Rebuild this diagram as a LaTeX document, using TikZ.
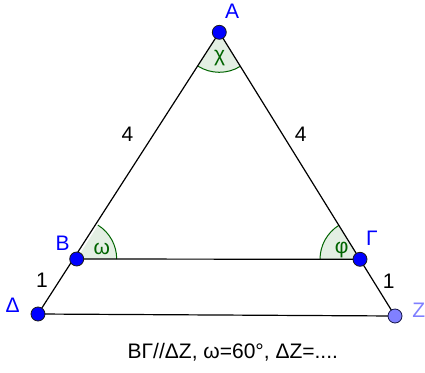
\documentclass[tikz,border=0pt]{standalone}
\usepackage{fontspec}
\setmainfont{Liberation Sans}
\usetikzlibrary{positioning, calc, angles}
\definecolor{PtBlue}{HTML}{0000FF}
\definecolor{PtLight}{HTML}{8080FF}
\definecolor{LblLight}{HTML}{7F7FFF}
\definecolor{PtEdge}{HTML}{1A1A1A}
\definecolor{AngGreen}{HTML}{006400}
\definecolor{AngFill}{HTML}{E3EFE3}
\tikzset{
    point/.style={circle, draw=PtEdge, line width=0.8pt, fill=PtBlue, inner sep=0pt, minimum size=14pt},
    side/.style={line width=1.2pt, color=black},
    lbl/.style={font=\fontsize{21}{24}\selectfont, inner sep=0pt},
    ptlabel/.style={lbl, text=PtBlue},
    anglabel/.style={lbl, text=AngGreen},
    angmark/.style={draw=AngGreen, fill=AngFill, line width=1pt, angle radius=40pt},
}

\begin{document}
\begin{tikzpicture}[x=1pt, y=-1pt]
        \useasboundingbox (0,0) rectangle (425,372);

        % Points
        \coordinate (A) at (219.3,32.3);
        \coordinate (B) at (76.7,259);
        \coordinate (G) at (360,259.3);
        \coordinate (D) at (38,314);
        \coordinate (Z) at (395,316);

        % Angles
        \pic[angmark] {angle = B--A--G};
        \pic[angmark] {angle = G--B--A};
        \pic[angmark] {angle = A--G--B};

        % Sides
        \draw[side] (A) -- (D);
        \draw[side] (A) -- (Z);
        \draw[side] (B) -- (G);
        \draw[side] (D) -- (Z);

        \node[point] (pA) at (A) {};
        \node[point] (pB) at (B) {};
        \node[point] (pG) at (G) {};
        \node[point] (pD) at (D) {};
        \node[point, fill=PtLight, draw=PtEdge!80!PtBlue] (pZ) at (Z) {};

        % Labels
        \node[ptlabel] (lA) at (232,11) {A};
        \node[ptlabel] (lB) at (62.7,243.7) {Β};
        \node[ptlabel] (lG) at (372,238) {Γ};
        \node[ptlabel] (lD) at (12.7,305) {Δ};
        \node[ptlabel, text=LblLight] (lZ) at (418.8,310.3) {Ζ};

        \node[anglabel] (chi) at (219.7,58) {χ};
        \node[anglabel] (omega) at (101.7,248.7) {ω};
        \node[anglabel] (phi) at (341.7,250) {φ};

        \node[lbl] (sAB) at (127.5,134) {4};
        \node[lbl] (sAG) at (300.8,134) {4};
        \node[lbl] (sBD) at (42,280) {1};
        \node[lbl] (sGZ) at (388.8,281.7) {1};

        \node[lbl, anchor=base] (cap) at (232.8,358.3) {ΒΓ//ΔΖ, ω=60°, ΔΖ=....};
    \end{tikzpicture}
\end{document}
